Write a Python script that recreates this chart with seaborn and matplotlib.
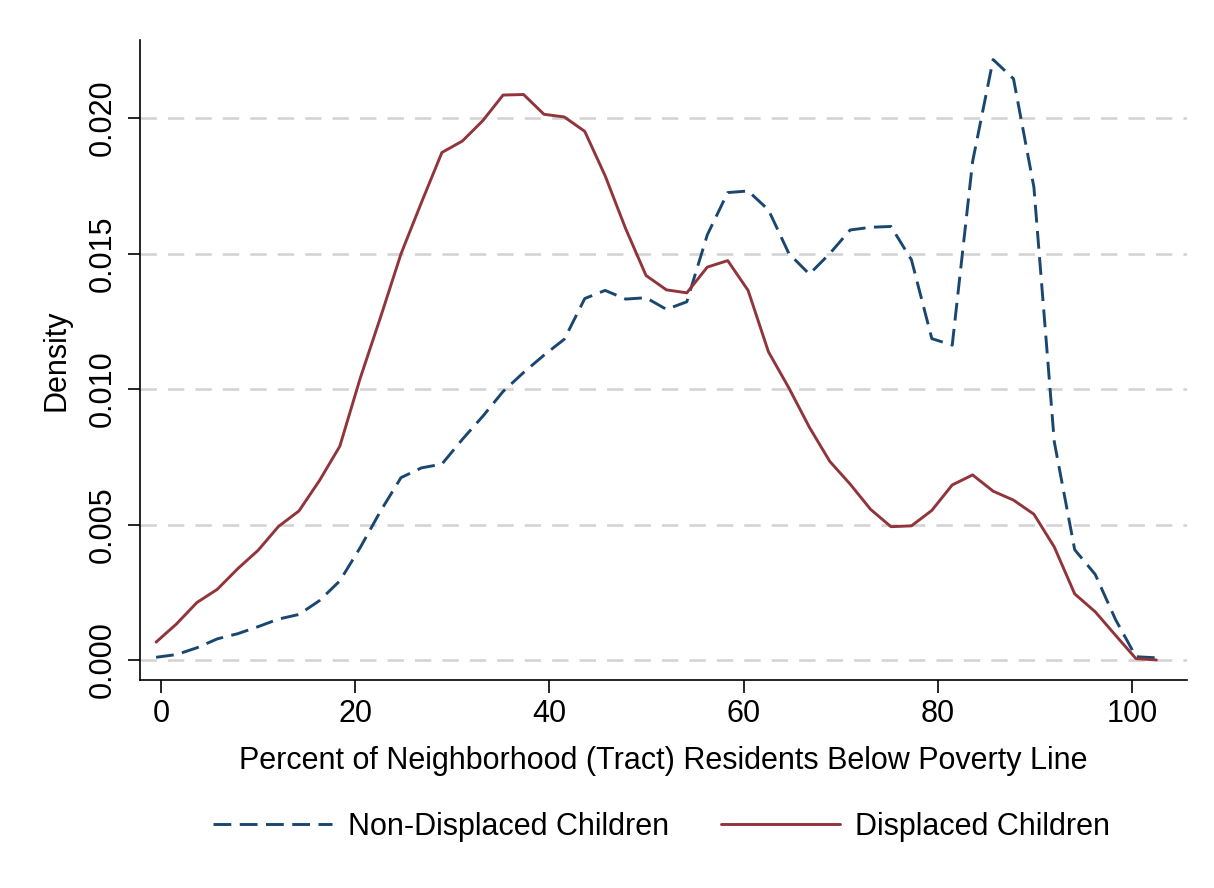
import numpy as np
import pandas as pd
import matplotlib
matplotlib.use("Agg")
import matplotlib.pyplot as plt
from matplotlib.lines import Line2D
import seaborn as sns

sns.set_theme(style="white")
plt.rcParams.update({'font.family': ['Liberation Sans', 'DejaVu Sans'],
                     'text.color': 'black', 'axes.labelcolor': 'black',
                     'xtick.color': 'black', 'ytick.color': 'black'})

# kdensity evaluation grid (50 points)
grid_x = [-0.50, 1.60, 3.70, 5.81, 7.91, 10.01, 12.11, 14.21, 16.32, 18.42,
          20.52, 22.62, 24.72, 26.83, 28.93, 31.03, 33.13, 35.23, 37.34, 39.44,
          41.54, 43.64, 45.74, 47.85, 49.95, 52.05, 54.15, 56.26, 58.36, 60.46,
          62.56, 64.66, 66.77, 68.87, 70.97, 73.07, 75.17, 77.28, 79.38, 81.48,
          83.58, 85.69, 87.79, 89.89, 91.99, 94.09, 96.20, 98.30, 100.40, 102.50]

# densities, in units of 0.001
non_displaced = [0.10, 0.20, 0.45, 0.78, 0.97, 1.23, 1.51, 1.68, 2.19, 2.92,
                 4.15, 5.50, 6.73, 7.09, 7.23, 8.14, 8.99, 9.91, 10.61, 11.25,
                 11.84, 13.34, 13.64, 13.32, 13.37, 12.94, 13.22, 15.69, 17.25, 17.31,
                 16.61, 15.00, 14.24, 15.00, 15.87, 15.97, 16.00, 14.77, 11.86, 11.62,
                 18.40, 22.16, 21.45, 17.45, 8.05, 4.07, 3.16, 1.49, 0.12, 0.08]
displaced = [0.66, 1.33, 2.12, 2.61, 3.37, 4.05, 4.93, 5.50, 6.62, 7.89,
             10.40, 12.66, 14.99, 16.89, 18.73, 19.15, 19.90, 20.85, 20.87, 20.14,
             20.04, 19.51, 17.87, 15.92, 14.19, 13.66, 13.55, 14.50, 14.74, 13.64,
             11.37, 10.04, 8.59, 7.33, 6.49, 5.56, 4.92, 4.95, 5.52, 6.46,
             6.83, 6.23, 5.90, 5.38, 4.17, 2.44, 1.78, 0.91, 0.05, 0.00]

groups = ["Non-Displaced Children", "Displaced Children"]
y_ticks = [0.000, 0.005, 0.010, 0.015, 0.020]
x_ticks = [0, 20, 40, 60, 80, 100]

df = pd.concat([
    pd.DataFrame({'x': grid_x, 'density': np.array(non_displaced) / 1000, 'group': groups[0]}),
    pd.DataFrame({'x': grid_x, 'density': np.array(displaced) / 1000, 'group': groups[1]}),
], ignore_index=True)

navy = '#1a476f'
maroon = '#90353b'
palette = {groups[0]: navy, groups[1]: maroon}
dash_pat = (6.1, 2.9)
dashes = {groups[0]: dash_pat, groups[1]: ''}
FS = 22

fig = plt.figure(figsize=(12.14, 8.88), dpi=100)
fig.patch.set_facecolor('white')
ax = fig.add_axes([0.1153, 0.2342, 0.8625, 0.7207])

# Stata-style dashed horizontal gridlines
for v in y_ticks:
    ax.axhline(v, color='#d4d4d4', lw=1.9, dashes=(6.2, 4.2), zorder=0)

sns.lineplot(data=df, x='x', y='density', hue='group', style='group',
             palette=palette, dashes=dashes, linewidth=2.1,
             estimator=None, sort=False, legend=False, ax=ax)

ax.set_xlim(-2.16, 105.66)
ax.set_ylim(-0.00074, 0.02288)
ax.set_xticks(x_ticks)
ax.set_yticks(y_ticks)
ax.set_yticklabels([f"{v:.3f}" for v in y_ticks], rotation=90, va='center')
ax.tick_params(axis='both', direction='out', length=9, width=1.2, colors='black',
               labelsize=FS, left=True, bottom=True)
ax.tick_params(axis='y', pad=7)
ax.tick_params(axis='x', pad=5)

for s in ['top', 'right']:
    ax.spines[s].set_visible(False)
for s in ['left', 'bottom']:
    ax.spines[s].set_color('black')
    ax.spines[s].set_linewidth(1.2)

ax.set_xlabel("Percent of Neighborhood (Tract) Residents Below Poverty Line", fontsize=FS, labelpad=12)
ax.set_ylabel("Density", fontsize=FS, labelpad=12)
ax.grid(False)

handles = [Line2D([], [], color=navy, lw=2.1, dashes=dash_pat),
           Line2D([], [], color=maroon, lw=2.1)]
fig.legend(handles, groups, loc='center', bbox_to_anchor=(0.545, 0.069), ncol=2,
           frameon=False, fontsize=FS, handlelength=3.9, handletextpad=0.5,
           columnspacing=1.7)

fig.savefig('out.png', dpi=100, facecolor='white')
